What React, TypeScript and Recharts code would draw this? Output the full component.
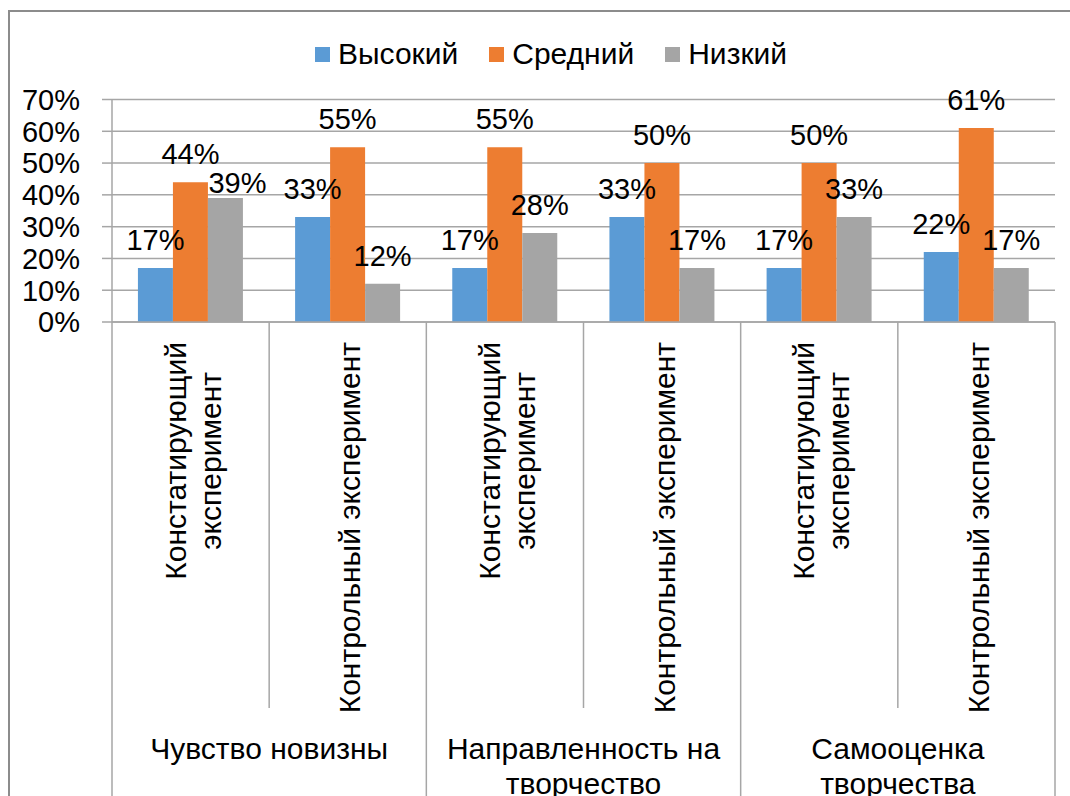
import React from "react";
import { BarChart, Bar, XAxis, YAxis, CartesianGrid, LabelList } from "recharts";

// level-1 categories (two per group), "\n" = manual line break
const categories = [
  "Констатирующий\nэксперимент",
  "Контрольный эксперимент",
  "Констатирующий\nэксперимент",
  "Контрольный эксперимент",
  "Констатирующий\nэксперимент",
  "Контрольный эксперимент",
];
const groups = [
  "Чувство новизны",
  "Чувство новизны",
  "Направленность на\nтворчество",
  "Направленность на\nтворчество",
  "Самооценка\nтворчества",
  "Самооценка\nтворчества",
];
const high = [17, 33, 17, 33, 17, 22];
const medium = [44, 55, 55, 50, 50, 61];
const low = [39, 12, 28, 17, 33, 17];
const yTicks = [0, 10, 20, 30, 40, 50, 60, 70];

const series = [
  { key: "high", name: "Высокий", color: "#5B9BD5" },
  { key: "medium", name: "Средний", color: "#ED7D31" },
  { key: "low", name: "Низкий", color: "#A5A5A5" },
];

const data = categories.map((name, i) => ({
  name,
  group: groups[i],
  high: high[i],
  medium: medium[i],
  low: low[i],
}));

const W = 1070;
const H = 796;
const PLOT_LEFT = 112;
const PLOT_RIGHT = 1055;
const PLOT_TOP = 99.5;
const AXIS1_H = 386;
const AXIS2_H = 88;
const CAT_W = (PLOT_RIGHT - PLOT_LEFT) / categories.length;
const LINE_H = 35;

// no serif faces in the sandbox, Liberation Sans stands in for Times
const FONT = "'Liberation Sans', Arial, sans-serif";
const FS_NUM = 29;
const FS_TEXT = 30;
const GRID = "#a6a6a6";

let ctx: CanvasRenderingContext2D | null = null;
function measure(text: string) {
  if (!ctx) {
    ctx = document.createElement("canvas").getContext("2d");
  }
  if (!ctx) return text.length * FS_TEXT * 0.5;
  ctx.font = `${FS_TEXT}px ${FONT}`;
  return ctx.measureText(text).width;
}

function CategoryTick(props: any) {
  const { x, y, payload, index } = props;
  const lines = String(payload.value).split("\n");
  const longest = Math.max(...lines.map(measure));
  const cy = y + 20 + longest / 2;
  const left = x - CAT_W / 2;
  const groupStart = index % 2 === 0;
  return (
    <g>
      {lines.map((line: string, i: number) => (
        <text
          key={i}
          transform={`translate(${x + 2 + (i - (lines.length - 1) / 2) * LINE_H}, ${cy}) rotate(-90)`}
          textAnchor="middle"
          dominantBaseline="central"
          style={{ fontFamily: FONT, fontSize: FS_TEXT }}
          fill="#000"
        >
          {line}
        </text>
      ))}
      <line
        x1={left}
        x2={left}
        y1={y}
        y2={y + (groupStart ? AXIS1_H + AXIS2_H : AXIS1_H)}
        stroke={GRID}
        strokeWidth={1.5}
      />
      {index === categories.length - 1 && (
        <line
          x1={x + CAT_W / 2}
          x2={x + CAT_W / 2}
          y1={y}
          y2={y + AXIS1_H + AXIS2_H}
          stroke={GRID}
          strokeWidth={1.5}
        />
      )}
    </g>
  );
}

function GroupTick(props: any) {
  const { x, y, payload } = props;
  const lines = String(payload.value).split("\n");
  return (
    <g>
      {lines.map((line: string, i: number) => (
        <text
          key={i}
          x={x}
          y={y + 51 + i * LINE_H}
          textAnchor="middle"
          style={{ fontFamily: FONT, fontSize: FS_TEXT }}
          fill="#000"
        >
          {line}
        </text>
      ))}
    </g>
  );
}

// value label above a bar; the "Низкий" label slides down-right when it
// would sit on top of the "Средний" label next to it (as in the original)
function makeValueLabel(key: string) {
  return function ValueLabel(props: any) {
    const { x, y, width, value, index } = props;
    let cx = x + width / 2;
    let baseY = y - 18;
    if (key === "low" && Math.abs(medium[index] - low[index]) < 8) {
      cx += 12;
      baseY = y - 5;
    }
    return (
      <text
        x={cx}
        y={baseY}
        textAnchor="middle"
        style={{ fontFamily: FONT, fontSize: FS_NUM }}
        fill="#000"
      >
        {`${value}%`}
      </text>
    );
  };
}

export default function App() {
  return (
    <div
      style={{
        position: "absolute",
        left: 0,
        top: 0,
        width: W,
        height: H,
        overflow: "hidden",
        background: "#fff",
      }}
    >
      <div
        style={{
          position: "absolute",
          left: 8,
          top: 10,
          width: 1200,
          height: 1000,
          border: "2px solid #8c8c8c",
        }}
      />
      <div
        style={{
          position: "absolute",
          left: 315,
          top: 39,
          display: "flex",
          alignItems: "center",
          fontFamily: FONT,
          fontSize: FS_TEXT,
          lineHeight: 1,
          color: "#000",
        }}
      >
        {series.map((s) => (
          <div key={s.key} style={{ display: "flex", alignItems: "center", marginRight: 31 }}>
            <span
              style={{ width: 15, height: 15, background: s.color, marginRight: 8, display: "inline-block" }}
            />
            <span>{s.name}</span>
          </div>
        ))}
      </div>
      <div style={{ position: "absolute", left: 0, top: 0 }}>
        <BarChart
          width={W}
          height={H}
          data={data}
          margin={{ top: PLOT_TOP, right: W - PLOT_RIGHT, left: 0, bottom: 0 }}
          barCategoryGap="16.5%"
          barGap={0}
        >
          <CartesianGrid vertical={false} stroke={GRID} strokeWidth={1.5} />
          <XAxis
            dataKey="name"
            height={AXIS1_H}
            interval={0}
            tickSize={0}
            tickMargin={0}
            tickLine={false}
            axisLine={{ stroke: GRID, strokeWidth: 1.5 }}
            tick={<CategoryTick />}
          />
          <XAxis
            xAxisId="group"
            dataKey="group"
            allowDuplicatedCategory={false}
            height={AXIS2_H}
            interval={0}
            tickSize={0}
            tickMargin={0}
            tickLine={false}
            axisLine={false}
            tick={<GroupTick />}
          />
          <YAxis
            width={PLOT_LEFT}
            domain={[0, 70]}
            ticks={yTicks}
            interval={0}
            tickSize={10}
            tickMargin={22}
            tickFormatter={(v) => `${v}%`}
            tick={{ fill: "#000", fontSize: FS_NUM, style: { fontFamily: FONT } }}
            tickLine={{ stroke: GRID, strokeWidth: 1.5 }}
            axisLine={{ stroke: GRID, strokeWidth: 1.5 }}
          />
          {series.map((s) => (
            <Bar key={s.key} dataKey={s.key} name={s.name} fill={s.color} isAnimationActive={false}>
              <LabelList dataKey={s.key} content={makeValueLabel(s.key)} />
            </Bar>
          ))}
        </BarChart>
      </div>
    </div>
  );
}
